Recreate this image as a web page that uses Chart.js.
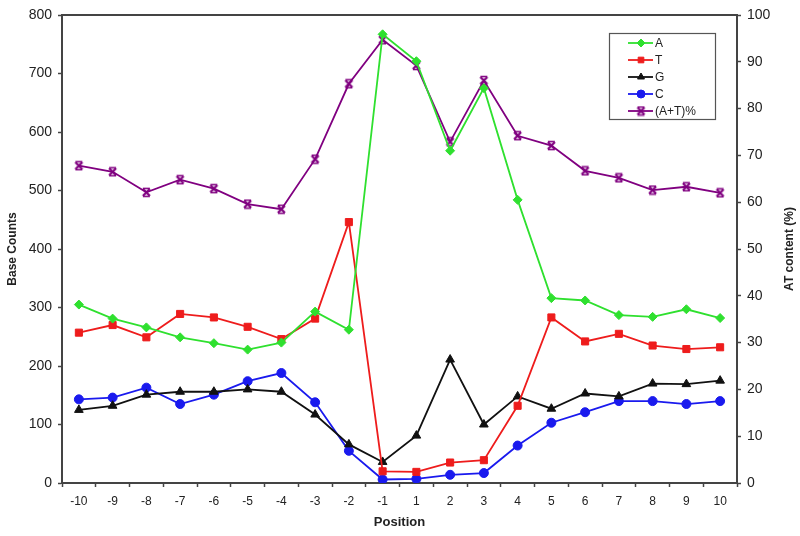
<!DOCTYPE html>
<html>
<head>
<meta charset="utf-8">
<script src="https://cdn.jsdelivr.net/npm/chart.js@4"></script>
<style>
  html, body { margin: 0; padding: 0; background: #fff; }
  #wrap { width: 800px; height: 536px; }
</style>
</head>
<body>
<div id="wrap"><canvas id="chart" width="800" height="536"></canvas></div>
<script>
// Contagem de bases por posição (-10..10) e conteúdo AT (%) no eixo direito.
var positions = ["-10", "-9", "-8", "-7", "-6", "-5", "-4", "-3", "-2", "-1",
                 "1", "2", "3", "4", "5", "6", "7", "8", "9", "10"];
var countA = [305, 281, 266, 249, 239, 228, 240, 293, 262, 767, 721, 568, 675, 484, 316, 312, 287, 284, 297, 282];
var countT = [257, 270, 249, 289, 283, 267, 246, 281, 446, 20, 19, 35, 39, 132, 283, 242, 255, 235, 229, 232];
var countG = [125, 132, 151, 156, 156, 160, 156, 117, 66, 36, 81, 211, 100, 148, 127, 153, 148, 170, 169, 175];
var countC = [143, 146, 163, 135, 151, 174, 188, 138, 55, 6, 7, 14, 17, 64, 103, 121, 140, 140, 135, 140];
var atPct = [67.8, 66.5, 62.1, 64.8, 62.9, 59.6, 58.5, 69.2, 85.3, 94.7,
             89.2, 72.9, 86.0, 74.2, 72.1, 66.7, 65.2, 62.6, 63.3, 62.0];
var countTicks = [0, 100, 200, 300, 400, 500, 600, 700, 800];
var pctTicks = [0, 10, 20, 30, 40, 50, 60, 70, 80, 90, 100];

var GREEN = "#2fe02f";
var RED = "#ee1c1c";
var BLACK = "#111111";
var BLUE = "#1a1aee";
var PURPLE = "#800080";
var AXIS = "#444444";
var TEXT = "#222222";
var FONT = "'Liberation Sans', Arial, sans-serif";

Chart.defaults.font.family = FONT;
Chart.defaults.color = TEXT;

// marcador "X com barras" (estilo Excel) para a série (A+T)%
function xBarMarker(color) {
  var c = document.createElement("canvas");
  c.width = 11;
  c.height = 11;
  var g = c.getContext("2d");
  g.strokeStyle = color;
  g.lineWidth = 2.2;
  g.beginPath();
  g.moveTo(2, 2); g.lineTo(9, 9);
  g.moveTo(9, 2); g.lineTo(2, 9);
  g.stroke();
  g.lineWidth = 1.4;
  g.beginPath();
  g.moveTo(2, 1.5); g.lineTo(9, 1.5);
  g.moveTo(2, 9.5); g.lineTo(9, 9.5);
  g.stroke();
  return c;
}

function series(label, values, color, style, radius, axis) {
  return {
    label: label,
    data: values,
    yAxisID: axis,
    borderColor: color,
    backgroundColor: color,
    pointBackgroundColor: color,
    pointBorderColor: color,
    borderWidth: 1.8,
    pointStyle: style,
    pointRadius: radius,
    pointBorderWidth: 1,
    tension: 0,
    fill: false,
  };
}

// Caixa de legenda dentro da área do gráfico, no canto superior direito
var boxLegend = {
  id: "boxLegend",
  afterDraw: function (chart) {
    var ctx = chart.ctx;
    var x0 = 609, y0 = 33, w = 106, h = 86;
    ctx.save();
    ctx.fillStyle = "#fff";
    ctx.fillRect(x0, y0, w, h);
    ctx.strokeStyle = "#555";
    ctx.lineWidth = 1.2;
    ctx.strokeRect(x0 + 0.5, y0 + 0.5, w, h);
    ctx.font = "12px " + FONT;
    ctx.textBaseline = "middle";
    chart.data.datasets.forEach(function (ds, i) {
      var y = y0 + 10 + i * 17;
      ctx.strokeStyle = ds.borderColor;
      ctx.lineWidth = 1.8;
      ctx.beginPath();
      ctx.moveTo(628, y);
      ctx.lineTo(653, y);
      ctx.stroke();
      ctx.fillStyle = ds.borderColor;
      ctx.strokeStyle = ds.borderColor;
      ctx.lineWidth = 1;
      Chart.helpers.drawPoint(ctx, {
        pointStyle: ds.pointStyle,
        radius: Math.min(ds.pointRadius, 4),
        rotation: 0,
        borderWidth: 1,
      }, 641, y);
      ctx.fillStyle = TEXT;
      ctx.fillText(ds.label, 655, y + 1);
    });
    ctx.restore();
  },
};

// Moldura superior + título do eixo direito (lido de baixo para cima)
var frameAndTitle = {
  id: "frameAndTitle",
  afterDraw: function (chart) {
    var a = chart.chartArea;
    var ctx = chart.ctx;
    ctx.save();
    ctx.strokeStyle = AXIS;
    ctx.lineWidth = 2;
    ctx.beginPath();
    ctx.moveTo(a.left, a.top);
    ctx.lineTo(a.right, a.top);
    ctx.stroke();
    ctx.translate(790, (a.top + a.bottom) / 2);
    ctx.rotate(-Math.PI / 2);
    ctx.font = "bold 12px " + FONT;
    ctx.fillStyle = TEXT;
    ctx.textAlign = "center";
    ctx.textBaseline = "middle";
    ctx.fillText("AT content (%)", 0, 0);
    ctx.restore();
  },
};

new Chart(document.getElementById("chart"), {
  type: "line",
  data: {
    labels: positions,
    datasets: [
      series("A", countA, GREEN, "rectRot", 4.5, "y"),
      series("T", countT, RED, "rect", 5, "y"),
      series("G", countG, BLACK, "triangle", 5, "y"),
      series("C", countC, BLUE, "circle", 4.5, "y"),
      series("(A+T)%", atPct, PURPLE, xBarMarker(PURPLE), 5, "y2"),
    ],
  },
  options: {
    responsive: false,
    animation: false,
    layout: { padding: { top: 15, left: 0, right: 0, bottom: 0 } },
    plugins: {
      legend: { display: false },
      tooltip: { enabled: false },
    },
    scales: {
      x: {
        type: "category",
        offset: true,
        afterFit: function (s) { s.height = 53; },
        grid: {
          offset: true,
          drawOnChartArea: false,
          tickLength: 4,
          tickColor: AXIS,
          tickWidth: 1.5,
        },
        border: { color: AXIS, width: 2 },
        ticks: { padding: 7, maxRotation: 0, autoSkip: false, font: { size: 12 }, color: TEXT },
        title: {
          display: true,
          text: "Position",
          font: { size: 13, weight: "bold" },
          color: TEXT,
          padding: { top: 0, bottom: 6 },
        },
      },
      y: {
        position: "left",
        min: 0,
        max: 800,
        afterFit: function (s) { s.width = 62; },
        afterBuildTicks: function (s) {
          s.ticks = countTicks.map(function (v) { return { value: v }; });
        },
        grid: {
          drawOnChartArea: false,
          tickLength: 4,
          tickColor: AXIS,
          tickWidth: 1.5,
        },
        border: { color: AXIS, width: 2 },
        ticks: { padding: 6, font: { size: 14 }, color: TEXT },
        title: {
          display: true,
          text: "Base Counts",
          font: { size: 12, weight: "bold" },
          color: TEXT,
          padding: { top: 5, bottom: 0 },
        },
      },
      y2: {
        position: "right",
        min: 0,
        max: 100,
        afterFit: function (s) { s.width = 63; },
        afterBuildTicks: function (s) {
          s.ticks = pctTicks.map(function (v) { return { value: v }; });
        },
        grid: {
          drawOnChartArea: false,
          tickLength: 4,
          tickColor: AXIS,
          tickWidth: 1.5,
        },
        border: { color: AXIS, width: 2 },
        ticks: { padding: 6, font: { size: 14 }, color: TEXT },
      },
    },
  },
  plugins: [frameAndTitle, boxLegend],
});
</script>
</body>
</html>
